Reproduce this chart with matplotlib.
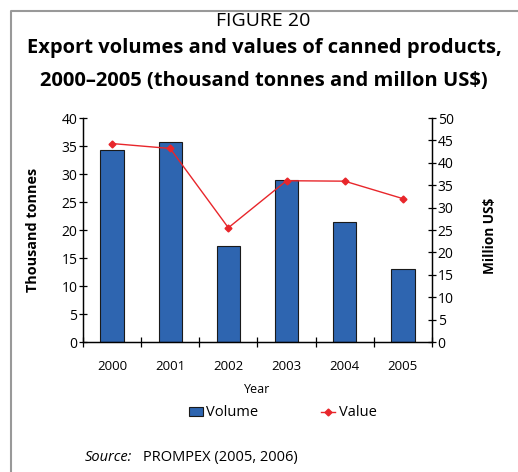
import numpy as np
import matplotlib
matplotlib.use("Agg")
import matplotlib.pyplot as plt
from matplotlib.lines import Line2D
from matplotlib.patches import Patch

plt.rcParams['font.family'] = ['Open Sans', 'DejaVu Sans']

# data
years = ["2000", "2001", "2002", "2003", "2004", "2005"]
volume = [34.2, 35.8, 17.1, 29.0, 21.4, 13.1]   # thousand tonnes
value = [44.3, 43.2, 25.5, 36.0, 35.9, 32.0]    # million US$

bar_color = "#2E65B0"
line_color = "#E8262B"

fig = plt.figure(figsize=(5.18, 4.72), dpi=100)
ax = fig.add_axes([0.160, 0.2754, 0.674, 0.4746])
ax2 = ax.twinx()

x = np.arange(len(years)) + 0.5
ax.bar(x, volume, width=0.40, color=bar_color, edgecolor="#1a1a1a", linewidth=0.8, zorder=2)
ax2.plot(x, value, color=line_color, lw=1, marker="D", ms=3.5, zorder=3)

ax.set_xlim(0, len(years))
ax.set_ylim(0, 40)
ax2.set_ylim(0, 50)
ax.set_yticks(np.arange(0, 41, 5))
ax2.set_yticks(np.arange(0, 51, 5))

# category boundary ticks, labels at centres
ax.set_xticks(np.arange(0, len(years) + 1))
ax.set_xticklabels([])
ax.set_xticks(x, minor=True)
ax.set_xticklabels(years, minor=True, fontsize=9.5)
ax.tick_params(axis="x", which="major", direction="inout", length=7, width=0.9)
ax.tick_params(axis="x", which="minor", length=0, pad=13)
ax.tick_params(axis="y", direction="inout", length=6, width=0.9, labelsize=10, pad=1)
ax2.tick_params(axis="y", direction="inout", length=6, width=0.9, labelsize=10, pad=1)

for a in (ax, ax2):
    a.spines["top"].set_visible(False)
    for s in ("left", "bottom", "right"):
        a.spines[s].set_linewidth(0.9)

ax.set_xlabel("Year", fontsize=9, labelpad=7)
fig.text(0.064, 0.5135, "Thousand tonnes", rotation=90, ha="center", va="center",
         fontsize=10.4, fontweight="bold")
fig.text(0.946, 0.50, "Million US$", rotation=90, ha="center", va="center",
         fontsize=9.8, fontweight="bold")

# legend
handles = [Patch(facecolor=bar_color, edgecolor="#1a1a1a", linewidth=0.8),
           Line2D([0], [0], color=line_color, lw=1, marker="D", ms=3.5)]
fig.legend(handles, ["Volume", "Value"], loc="center", bbox_to_anchor=(0.546, 0.125),
           ncol=2, frameon=False, fontsize=10.5, handlelength=0.95, handletextpad=0.25,
           columnspacing=4.3, handleheight=0.6)

# titles
fig.text(0.508, 0.956, "FIGURE 20", ha="center", va="center", fontsize=14)
fig.text(0.51, 0.898, "Export volumes and values of canned products,", ha="center",
         va="center", fontsize=14.5, fontweight="bold")
fig.text(0.51, 0.828, "2000\u20132005 (thousand tonnes and millon US$)", ha="center",
         va="center", fontsize=14.5, fontweight="bold")

# source note
fig.text(0.164, 0.030, "Source:", ha="left", va="center", fontsize=10.5, style="italic")
fig.text(0.276, 0.030, "PROMPEX (2005, 2006)", ha="left", va="center", fontsize=10.5)

# box frame (left and top edges)
frame_x = [11 / 518, 11 / 518, 1.0]
frame_y = [0.0, 1 - 11 / 472, 1 - 11 / 472]
fig.add_artist(Line2D(frame_x, frame_y, transform=fig.transFigure, color="#999999", lw=1.5))

fig.savefig("out.png", dpi=100)
